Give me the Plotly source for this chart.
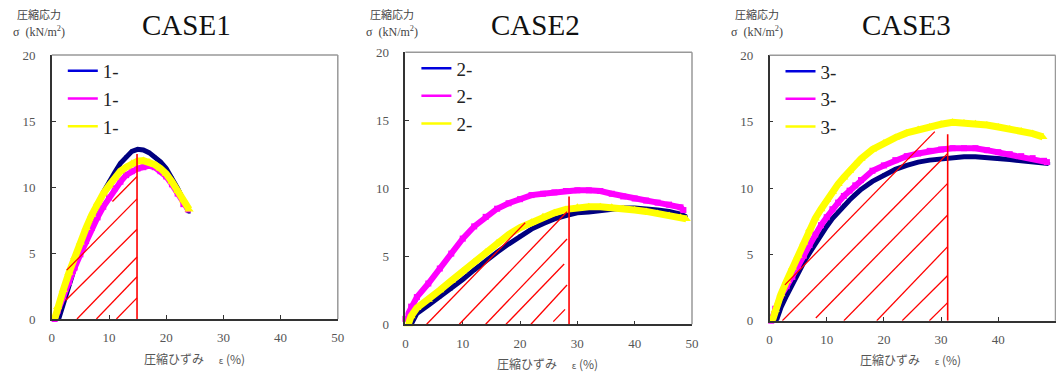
import plotly.graph_objects as go

# ---------------- data ----------------
case_titles = ["CASE1", "CASE2", "CASE3"]
legend_names = [["1-", "1-", "1-"], ["2-", "2-", "2-"], ["3-", "3-", "3-"]]
x_ticks = [0, 10, 20, 30, 40, 50]
y_ticks = [0, 5, 10, 15, 20]

# CASE1
c1_blue_x = [1.2, 2, 3, 4, 5, 6, 7, 8, 9, 10, 11, 12, 13, 14, 15, 16, 17, 18, 19, 20, 21, 22, 23, 24]
c1_blue_y = [0, 1.2, 2.6, 3.9, 5.1, 6.3, 7.5, 8.6, 9.6, 10.4, 11.1, 11.8, 12.3, 12.7, 12.85, 12.8, 12.6, 12.3, 11.9, 11.4, 10.7, 9.9, 9.0, 8.1]
c1_mag_x = [0.5, 1, 2, 3, 4, 5, 6, 7, 8, 9, 10, 11, 12, 13, 14, 15, 16, 17, 18, 19, 20, 21, 22, 23, 23.8]
c1_mag_y = [0, 0.6, 1.7, 2.8, 3.9, 4.9, 5.9, 6.9, 7.7, 8.5, 9.2, 9.9, 10.4, 10.9, 11.2, 11.4, 11.5, 11.6, 11.5, 11.2, 10.8, 10.2, 9.5, 8.7, 8.3]
c1_yel_x = [0.5, 1, 2, 3, 4, 5, 6, 7, 8, 9, 10, 11, 12, 13, 14, 15, 16, 17, 18, 19, 20, 21, 22, 23, 24]
c1_yel_y = [0, 0.9, 2.2, 3.5, 4.7, 5.8, 6.9, 7.9, 8.8, 9.5, 10.1, 10.7, 11.2, 11.5, 11.8, 11.95, 12.0, 11.9, 11.7, 11.4, 11.0, 10.4, 9.7, 9.0, 8.3]

# CASE2
c2_blue_x = [1, 2, 4, 6, 8, 10, 12, 14, 16, 18, 20, 22, 24, 26, 28, 30, 32, 34, 36, 38, 40, 42, 44, 46, 48, 49]
c2_blue_y = [0, 0.8, 1.4, 2.0, 2.6, 3.3, 4.0, 4.7, 5.3, 5.9, 6.5, 7.0, 7.4, 7.75, 8.0, 8.2, 8.25, 8.35, 8.45, 8.55, 8.55, 8.5, 8.4, 8.3, 8.1, 7.9]
c2_mag_x = [0, 1, 2, 4, 6, 8, 10, 12, 14, 16, 18, 20, 22, 24, 26, 28, 30, 32, 34, 36, 38, 40, 42, 44, 46, 48, 48.5]
c2_mag_y = [0.4, 1.3, 2.0, 3.0, 4.1, 5.2, 6.3, 7.2, 7.9, 8.5, 8.9, 9.2, 9.5, 9.6, 9.7, 9.8, 9.85, 9.85, 9.8, 9.6, 9.4, 9.25, 9.1, 8.95, 8.8, 8.6, 8.4]
c2_yel_x = [0.5, 1, 2, 4, 6, 8, 10, 12, 14, 16, 18, 20, 22, 24, 26, 28, 30, 32, 34, 36, 38, 40, 42, 44, 46, 48, 49]
c2_yel_y = [0, 0.6, 1.2, 1.8, 2.5, 3.2, 3.9, 4.6, 5.3, 6.0, 6.6, 7.1, 7.5, 7.9, 8.2, 8.45, 8.6, 8.65, 8.65, 8.6, 8.5, 8.4, 8.3, 8.15, 8.0, 7.85, 7.75]

# CASE3
c3_blue_x = [1.2, 2, 3, 4, 5, 6, 7, 8, 9, 10, 11, 12, 13, 14, 15, 16, 18, 20, 22, 24, 26, 28, 30, 32, 34, 36, 38, 40, 42, 44, 46, 48, 48.8]
c3_blue_y = [0, 1.0, 1.9, 2.8, 3.6, 4.4, 5.1, 5.8, 6.5, 7.1, 7.7, 8.2, 8.7, 9.1, 9.5, 9.9, 10.5, 11.0, 11.4, 11.7, 11.95, 12.1, 12.2, 12.3, 12.35, 12.35, 12.3, 12.25, 12.15, 12.05, 11.95, 11.85, 11.85]
c3_mag_x = [0.3, 1, 2, 3, 4, 5, 6, 7, 8, 9, 10, 11, 12, 13, 14, 15, 16, 18, 20, 22, 24, 26, 28, 30, 32, 34, 36, 38, 40, 42, 44, 46, 48, 48.5]
c3_mag_y = [0, 0.9, 1.9, 2.6, 3.3, 4.1, 4.9, 5.7, 6.5, 7.2, 7.8, 8.4, 8.9, 9.4, 9.8, 10.2, 10.6, 11.3, 11.7, 12.1, 12.4, 12.6, 12.8, 12.9, 13.0, 13.0, 13.0, 12.85, 12.7, 12.55, 12.4, 12.25, 12.05, 11.95]
c3_yel_x = [0.5, 1, 2, 3, 4, 5, 6, 7, 8, 9, 10, 11, 12, 13, 14, 15, 16, 18, 20, 22, 24, 26, 28, 30, 32, 34, 36, 38, 40, 42, 44, 46, 47.8]
c3_yel_y = [0, 0.8, 2.0, 3.0, 4.0, 4.9, 5.9, 6.9, 7.7, 8.4, 9.1, 9.7, 10.3, 10.8, 11.3, 11.8, 12.2, 12.9, 13.4, 13.8, 14.15, 14.4, 14.6, 14.8, 14.95, 14.9, 14.85, 14.75, 14.6, 14.45, 14.3, 14.1, 13.85]

# hatched area: peak-strain line and diagonal hatch segments (data units)
peak_x = [14.9, 28.55, 31.15]
peak_top = [12.5, 9.4, 14.05]
hatch1_x0 = [10.6, 2.6, 2.4, 4.4, 7.8, 11.3]
hatch1_y0 = [8.9, 3.7, 1.4, 0, 0, 0]
hatch1_x1 = [14.9, 14.9, 14.9, 14.9, 14.9, 14.9]
hatch1_y1 = [10.8, 9.1, 6.8, 4.7, 3.2, 1.6]
hatch2_x0 = [3.7, 9.4, 14.0, 17.55, 21.9, 25.8]
hatch2_y0 = [0, 0, 0, 0, 0, 0.2]
hatch2_x1 = [20.9, 28.2, 28.2, 27.7, 28.2, 27.85]
hatch2_y1 = [7.47, 8.28, 6.27, 4.43, 2.89, 1.1]
hatch3_x0 = [2.7, 2.25, 8.1, 13.0, 18.75, 23.2, 27.95]
hatch3_y0 = [2.7, 0, 0.2, 0, 0, 0, 0]
hatch3_x1 = [28.9, 31.15, 31.15, 31.15, 31.15, 31.15, 31.15]
hatch3_y1 = [14.25, 12.6, 10.35, 7.97, 5.58, 3.4, 1.36]

# ---------------- styling / layout ----------------
W, H = 1056, 374
panels = [
    dict(px0=51.8, px1=337.8, top=55, bot=319, title_cx=186, xlab_cx=194),
    dict(px0=405.4, px1=692.0, top=52.3, bot=324.3, title_cx=535, xlab_cx=547),
    dict(px0=769.5, px1=1055.5, top=55.3, bot=320.7, title_cx=906, xlab_cx=910),
]
series = [
    [(c1_blue_x, c1_blue_y), (c1_mag_x, c1_mag_y), (c1_yel_x, c1_yel_y)],
    [(c2_blue_x, c2_blue_y), (c2_mag_x, c2_mag_y), (c2_yel_x, c2_yel_y)],
    [(c3_blue_x, c3_blue_y), (c3_mag_x, c3_mag_y), (c3_yel_x, c3_yel_y)],
]
hatches = [
    (hatch1_x0, hatch1_y0, hatch1_x1, hatch1_y1),
    (hatch2_x0, hatch2_y0, hatch2_x1, hatch2_y1),
    (hatch3_x0, hatch3_y0, hatch3_x1, hatch3_y1),
]
colors = ["#000080", "#FF00FF", "#FFFF00"]
legend_colors = ["#0000DD", "#FF00FF", "#FFFF00"]
symbols = ["square", "square", "triangle-up"]
msizes = [3, 6, 8]
lwidths = [5, 6, 7]

serif = "Liberation Serif"
jp = "Noto Sans CJK JP"

fig = go.Figure()
layout = dict(width=W, height=H, margin=dict(l=0, r=0, t=0, b=0),
              paper_bgcolor="white", plot_bgcolor="white", showlegend=True)
shapes, annotations = [], []

for i, p in enumerate(panels):
    n = "" if i == 0 else str(i + 1)
    xa, ya = "x" + n, "y" + n
    leg = "legend" + n
    for k, (xs, ys) in enumerate(series[i]):
        fig.add_trace(go.Scatter(
            x=xs, y=ys, xaxis=xa, yaxis=ya, mode="lines+markers",
            line=dict(color=colors[k], width=lwidths[k]),
            marker=dict(color=colors[k], symbol=symbols[k], size=msizes[k]),
            cliponaxis=False, showlegend=False, hoverinfo="skip"))
    for k in range(3):
        fig.add_trace(go.Scatter(
            x=[None], y=[None], xaxis=xa, yaxis=ya, mode="lines",
            name=legend_names[i][k], legend=leg,
            line=dict(color=legend_colors[k], width=2.5)))
    dom_x = [p["px0"] / W, p["px1"] / W]
    dom_y = [1 - p["bot"] / H, 1 - p["top"] / H]
    layout["xaxis" + n] = dict(domain=dom_x, range=[0, 50], tickvals=x_ticks,
                               automargin=False,
                               showgrid=False, zeroline=False, showline=True,
                               linecolor="#333", linewidth=1.5, ticks="inside",
                               ticklen=4, tickcolor="#333", anchor=ya,
                               ticklabelstandoff=6,
                               tickfont=dict(family=serif, size=13, color="#555"))
    layout["yaxis" + n] = dict(domain=dom_y, range=[0, 20], tickvals=y_ticks,
                               automargin=False,
                               showgrid=False, zeroline=False, showline=True,
                               linecolor="#333", linewidth=1.5, ticks="inside",
                               ticklen=4, tickcolor="#333", anchor=xa,
                               ticklabelstandoff=12,
                               tickfont=dict(family=serif, size=13, color="#555"))
    layout[leg] = dict(x=(p["px0"] + 11) / W, y=1 - (p["top"] - 3) / H,
                       xanchor="left", yanchor="top", bgcolor="rgba(0,0,0,0)",
                       font=dict(family=serif, size=19, color="#222"),
                       itemwidth=30, tracegroupgap=0)
    # top/right frame in grey
    shapes.append(dict(type="line", xref=xa + " domain", yref=ya + " domain",
                       x0=0, x1=1, y0=1, y1=1, line=dict(color="#999", width=1.5)))
    shapes.append(dict(type="line", xref=xa + " domain", yref=ya + " domain",
                       x0=1, x1=1, y0=0, y1=1, line=dict(color="#999", width=1.5)))
    # hatching
    hx0, hy0, hx1, hy1 = hatches[i]
    for a, b, c, d in zip(hx0, hy0, hx1, hy1):
        shapes.append(dict(type="line", xref=xa, yref=ya, x0=a, y0=b, x1=c, y1=d,
                           line=dict(color="#FF0000", width=1.3)))
    shapes.append(dict(type="line", xref=xa, yref=ya, x0=peak_x[i], y0=0,
                       x1=peak_x[i], y1=peak_top[i],
                       line=dict(color="#FF0000", width=1.6)))
    # titles and axis labels
    annotations.append(dict(text=case_titles[i], xref="paper", yref="paper",
                            x=p["title_cx"] / W, y=1 - 25 / H, showarrow=False,
                            xanchor="center", yanchor="middle",
                            font=dict(family=serif, size=29, color="#111")))
    lx = p["px0"] - 13
    annotations.append(dict(text="圧縮応力", xref="paper", yref="paper",
                            x=lx / W, y=1 - 14 / H, showarrow=False,
                            xanchor="center", yanchor="middle",
                            font=dict(family=jp, size=11, color="#444")))
    annotations.append(dict(text="σ  (kN/m<sup>2</sup>)", xref="paper", yref="paper",
                            x=lx / W, y=1 - 31 / H, showarrow=False,
                            xanchor="center", yanchor="middle",
                            font=dict(family=serif, size=12, color="#444")))
    annotations.append(dict(text="圧縮ひずみ　 <span style='font-size:9px'>ε</span> (%)",
                            xref="paper", yref="paper",
                            x=p["xlab_cx"] / W, y=1 - (p["bot"] + 39) / H, showarrow=False,
                            xanchor="center", yanchor="middle",
                            font=dict(family=jp, size=12, color="#555")))

layout["shapes"] = shapes
layout["annotations"] = annotations
fig.update_layout(**layout)
fig.write_html("out.html", config={"displayModeBar": False},
               post_script="document.body.style.margin='0';document.body.style.overflow='hidden';")
